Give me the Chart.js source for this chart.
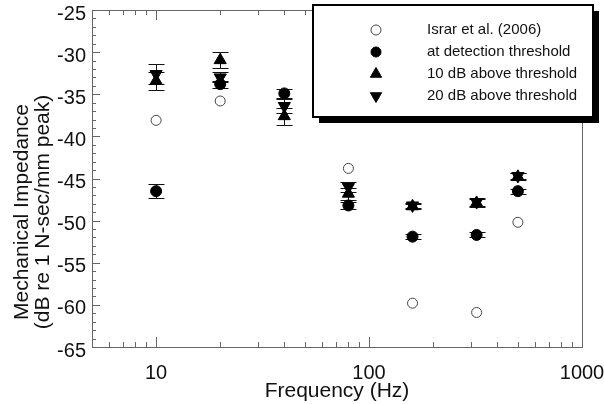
<!DOCTYPE html>
<html>
<head>
<meta charset="utf-8">
<script src="https://cdn.jsdelivr.net/npm/chart.js@4.4.1/dist/chart.umd.min.js"></script>
<style>
  html, body { margin: 0; padding: 0; background: #fff; }
  #wrap { width: 604px; height: 404px; }
</style>
</head>
<body>
<div id="wrap"><canvas id="impedanceChart"></canvas></div>
<script>
// frequencies (Hz)
const freqs = [10, 20, 40, 80, 160, 320, 500];

// Israr et al. (2006) - no point at 40 Hz
const israr = [-38.1, -35.8, null, -43.8, -59.8, -60.9, -50.2];

// this study, mean and error bar half-length
const atThreshold = [-46.5, -33.8, -34.9, -48.2, -51.9, -51.7, -46.5];
const atThresholdErr = [0.8, 0.4, 0.5, 0.4, 0.3, 0.3, 0.3];
const above10 = [-33.4, -30.95, -37.6, -46.8, -48.3, -47.9, -44.8];
const above10Err = [1.1, 0.95, 1.0, 0.7, 0.3, 0.5, 0.4];
const above20 = [-32.6, -33.0, -36.4, -46.0, -48.2, -47.8, -44.7];
const above20Err = [1.2, 0.6, 0.8, 0.6, 0.3, 0.5, 0.4];

const xTickLabels = [10, 100, 1000];
const yMin = -65, yMax = -25, yStep = 5;

const seriesLabels = ['Israr et al. (2006)', 'at detection threshold',
                      '10 dB above threshold', '20 dB above threshold'];

function toPoints(vals) {
    const pts = [];
    vals.forEach((v, i) => { if (v !== null) pts.push({x: freqs[i], y: v}); });
    return pts;
}

Chart.defaults.font.family = 'Arial, "Liberation Sans", sans-serif';
Chart.defaults.color = '#111';

const errorSets = [null, atThresholdErr, above10Err, above20Err];

const errorBars = {
    id: 'errorBars',
    beforeDatasetsDraw(chart) {
        const ctx = chart.ctx;
        const xs = chart.scales.x, ys = chart.scales.y;
        ctx.save();
        ctx.strokeStyle = '#111';
        ctx.lineWidth = 1;
        chart.data.datasets.forEach((ds, di) => {
            const errs = errorSets[di];
            if (!errs) return;
            ds.data.forEach((p, i) => {
                const x = Math.round(xs.getPixelForValue(p.x)) + 0.5;
                const y1 = Math.round(ys.getPixelForValue(p.y + errs[i])) + 0.5;
                const y2 = Math.round(ys.getPixelForValue(p.y - errs[i])) + 0.5;
                ctx.beginPath();
                ctx.moveTo(x, y1); ctx.lineTo(x, y2);
                ctx.moveTo(x - 8, y1); ctx.lineTo(x + 8, y1);
                ctx.moveTo(x - 8, y2); ctx.lineTo(x + 8, y2);
                ctx.stroke();
            });
        });
        ctx.restore();
    }
};

const frameAndTicks = {
    id: 'frameAndTicks',
    beforeDatasetsDraw(chart) {
        const ctx = chart.ctx;
        const a = chart.chartArea;
        const xs = chart.scales.x, ys = chart.scales.y;
        ctx.save();
        ctx.strokeStyle = '#666';
        ctx.lineWidth = 1;
        ctx.strokeRect(Math.round(a.left) + 0.5, Math.round(a.top) + 0.5,
                       Math.round(a.right - a.left), Math.round(a.bottom - a.top));
        ctx.beginPath();
        // y ticks, inward from left axis
        for (let v = yMin; v <= yMax; v++) {
            const y = Math.round(ys.getPixelForValue(v)) + 0.5;
            const len = v % yStep === 0 ? 8 : 4;
            ctx.moveTo(a.left, y); ctx.lineTo(a.left + len, y);
        }
        // log ticks on bottom and top
        for (let dec = 1; dec <= 100; dec *= 10) {
            for (let m = 1; m <= 9; m++) {
                const v = m * dec;
                if (v < xs.min || v > xs.max) continue;
                const x = Math.round(xs.getPixelForValue(v)) + 0.5;
                const len = m === 1 ? 10 : 5;
                ctx.moveTo(x, a.bottom); ctx.lineTo(x, a.bottom - len);
                ctx.moveTo(x, a.top); ctx.lineTo(x, a.top + len);
            }
        }
        ctx.stroke();

        // y axis title, two lines
        ctx.fillStyle = '#111';
        ctx.font = '21px Arial, "Liberation Sans", sans-serif';
        ctx.textAlign = 'center';
        ctx.textBaseline = 'middle';
        ctx.translate(22, 212);
        ctx.rotate(-Math.PI / 2);
        ctx.fillText('Mechanical Impedance', 0, 0);
        ctx.fillText('(dB re 1 N-sec/mm peak)', 0, 21);
        ctx.restore();
    }
};

const boxLegend = {
    id: 'boxLegend',
    afterDraw(chart) {
        const ctx = chart.ctx;
        const bx = 313, by = 5, bw = 280, bh = 112;
        ctx.save();
        ctx.fillStyle = '#000';
        ctx.fillRect(bx + 6, by + 6, bw, bh);
        ctx.fillStyle = '#fff';
        ctx.fillRect(bx, by, bw, bh);
        ctx.strokeStyle = '#000';
        ctx.lineWidth = 2;
        ctx.strokeRect(bx, by, bw, bh);
        ctx.font = '15px Arial, "Liberation Sans", sans-serif';
        ctx.textBaseline = 'middle';
        ctx.textAlign = 'left';
        chart.data.datasets.forEach((ds, i) => {
            const y = by + 25 + i * 22;
            ctx.fillStyle = ds.backgroundColor;
            ctx.strokeStyle = ds.borderColor;
            ctx.lineWidth = 1;
            Chart.helpers.drawPoint(ctx, {
                pointStyle: ds.pointStyle,
                radius: ds.pointStyle === 'circle' ? 5 : 6.5,
                rotation: ds.rotation || 0,
                borderWidth: 1
            }, 376, y);
            ctx.fillStyle = '#111';
            ctx.fillText(ds.label, 427, y);
        });
        ctx.restore();
    }
};

new Chart(document.getElementById('impedanceChart'), {
    type: 'scatter',
    data: {
        datasets: [{
            label: seriesLabels[0],
            data: toPoints(israr),
            pointStyle: 'circle',
            backgroundColor: '#fff',
            borderColor: '#444',
            borderWidth: 1,
            pointRadius: 5
        }, {
            label: seriesLabels[1],
            data: toPoints(atThreshold),
            pointStyle: 'circle',
            backgroundColor: '#000',
            borderColor: '#000',
            borderWidth: 1,
            pointRadius: 5.5
        }, {
            label: seriesLabels[2],
            data: toPoints(above10),
            pointStyle: 'triangle',
            backgroundColor: '#000',
            borderColor: '#000',
            borderWidth: 1,
            pointRadius: 7
        }, {
            label: seriesLabels[3],
            data: toPoints(above20),
            pointStyle: 'triangle',
            rotation: 180,
            backgroundColor: '#000',
            borderColor: '#000',
            borderWidth: 1,
            pointRadius: 7
        }]
    },
    options: {
        responsive: true,
        maintainAspectRatio: false,
        animation: false,
        devicePixelRatio: 1,
        layout: { padding: { top: 10, right: 22, left: 0, bottom: 0 } },
        plugins: {
            legend: { display: false },
            tooltip: { enabled: false }
        },
        scales: {
            x: {
                type: 'logarithmic',
                min: 5,
                max: 1000,
                grid: { display: false, drawTicks: false },
                border: { display: false },
                afterBuildTicks: s => { s.ticks = xTickLabels.map(v => ({value: v})); },
                afterFit: s => { s.height = 57; s.paddingLeft = 0; s.paddingRight = 0; },
                ticks: {
                    callback: v => String(v),
                    autoSkip: false,
                    maxRotation: 0,
                    padding: 14,
                    font: { size: 20 }
                },
                title: {
                    display: true,
                    text: 'Frequency (Hz)',
                    font: { size: 21 },
                    padding: { top: 0, bottom: 0 }
                }
            },
            y: {
                min: yMin,
                max: yMax,
                grid: { display: false, drawTicks: false },
                border: { display: false },
                afterFit: s => { s.width = 92; s.paddingTop = 0; s.paddingBottom = 0; },
                ticks: {
                    stepSize: yStep,
                    padding: 6,
                    labelOffset: 4,
                    font: { size: 20 }
                }
            }
        }
    },
    plugins: [frameAndTicks, errorBars, boxLegend]
});
</script>
</body>
</html>
